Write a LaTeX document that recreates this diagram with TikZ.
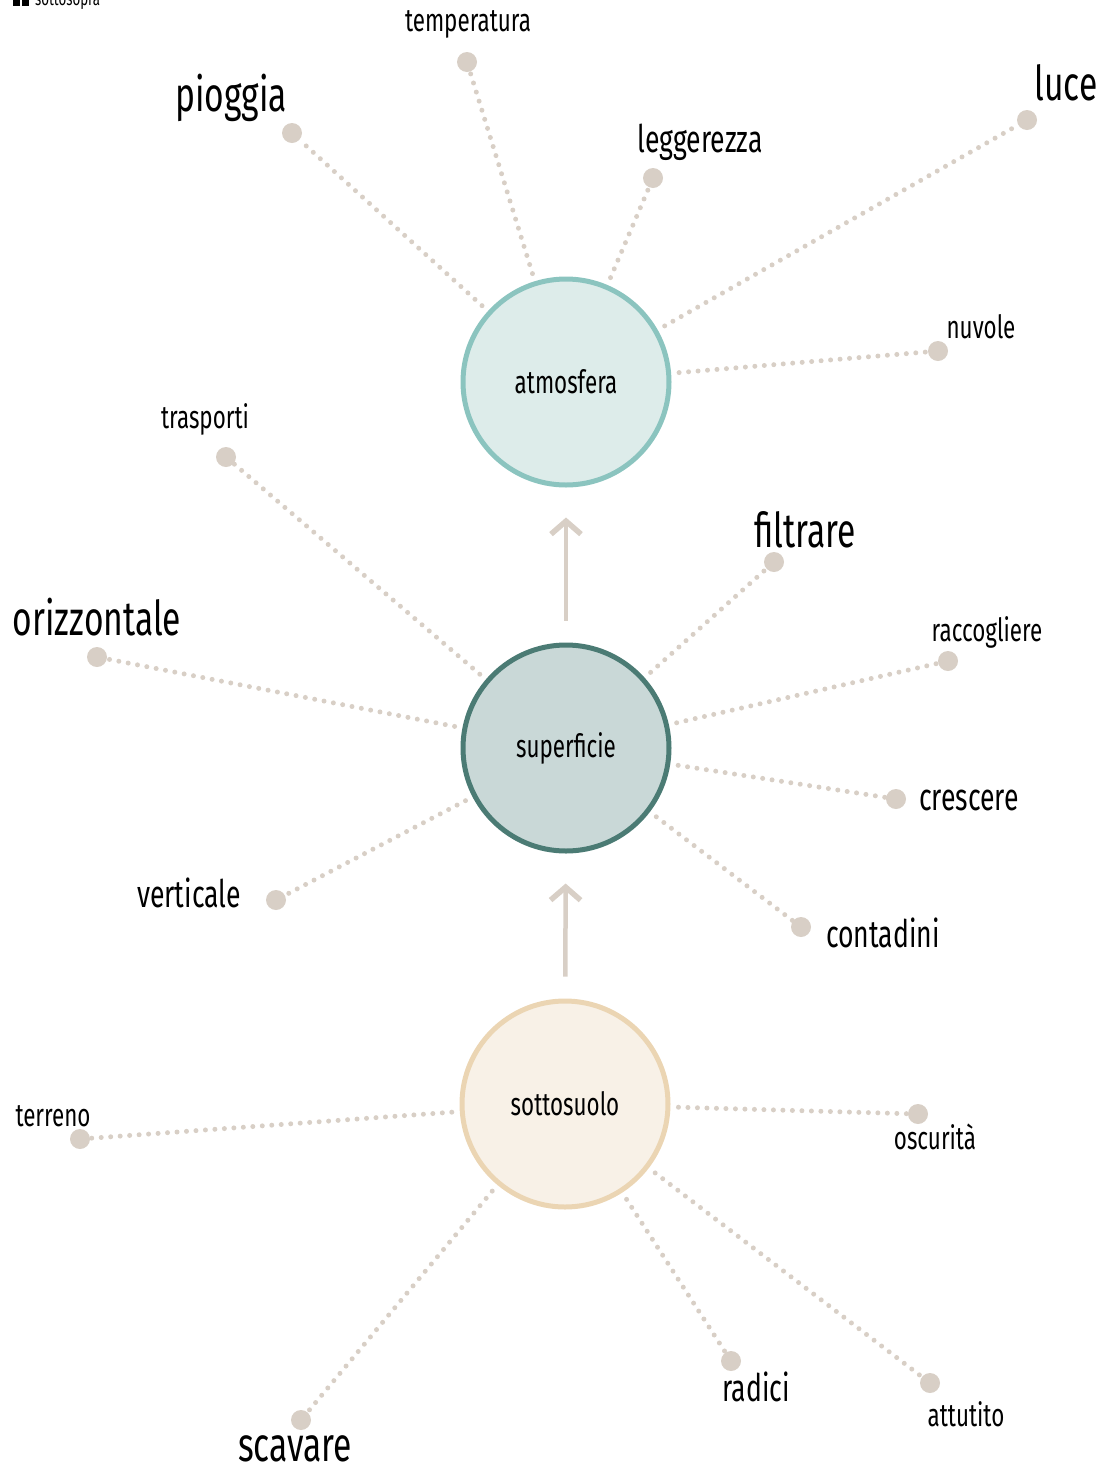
\documentclass[tikz,border=0pt]{standalone}
\usepackage{fontspec}
\setmainfont{Fira Sans}[FakeStretch=0.7]
\usepackage{tikz}
\usetikzlibrary{arrows.meta}
\definecolor{atmline}{HTML}{8BC4BF}
\definecolor{atmfill}{HTML}{DDECEA}
\definecolor{supline}{HTML}{4B7B74}
\definecolor{supfill}{HTML}{C9D8D7}
\definecolor{subline}{HTML}{EBD5B3}
\definecolor{subfill}{HTML}{F8F1E7}
\definecolor{dotgray}{HTML}{D8CFC6}
\tikzset{
  hub/.style={circle, minimum size=206pt, line width=5pt, inner sep=0pt,
    font=\fontsize{32}{34}\selectfont},
  leaf/.style={circle, fill=dotgray, minimum size=20pt, inner sep=0pt},
  link/.style={dotgray, line width=5pt, line cap=round,
    dash pattern=on 0pt off 9.5pt, shorten <=8pt},
  flow/.style={dotgray, line width=4.5pt, shorten <=22pt, shorten >=30pt,
    -{Straight Barb[length=13pt,width=30pt,line width=5.5pt]}},
  big/.style={font=\fontsize{48}{50}\selectfont},
  mid/.style={font=\fontsize{38}{40}\selectfont},
  small/.style={font=\fontsize{32}{34}\selectfont}
}

\begin{document}
\begin{tikzpicture}[x=1pt, y=-1pt]
  \useasboundingbox (0,0) rectangle (1104,1468);

  % brand mark, top left
  \fill (13,-6) rectangle (20,6);
  \fill (22,-6) rectangle (29,6);
  \node[anchor=base west, inner sep=0pt, font=\fontsize{19}{20}\selectfont] (brand) at (35,5) {sottosopra};

  % the three layers
  \node[hub, draw=atmline, fill=atmfill] (atm) at (566,382) {atmosfera};
  \node[hub, draw=supline, fill=supfill] (sup) at (566,748) {superficie};
  \node[hub, draw=subline, fill=subfill] (sub) at (565,1104) {sottosuolo};

  \draw[flow] (sup) -- (atm);
  \draw[flow] (sub) -- (sup);

  % atmosfera
  \node[leaf] (temperatura-dot) at (467,62) {};
  \node[small] (temperatura) at (468,24) {temperatura};
  \node[leaf] (pioggia-dot) at (292,133) {};
  \node[big] (pioggia) at (231,98) {pioggia};
  \node[leaf] (leggerezza-dot) at (653,178) {};
  \node[mid] (leggerezza) at (700,142) {leggerezza};
  \node[leaf] (luce-dot) at (1027,120) {};
  \node[big] (luce) at (1066,83) {luce};
  \node[leaf] (nuvole-dot) at (938,351) {};
  \node[small] (nuvole) at (981,327) {nuvole};
  \draw[link] (atm) -- (temperatura-dot);
  \draw[link] (atm) -- (pioggia-dot);
  \draw[link] (atm) -- (leggerezza-dot);
  \draw[link] (atm) -- (luce-dot);
  \draw[link] (atm) -- (nuvole-dot);

  % superficie
  \node[leaf] (trasporti-dot) at (226,457) {};
  \node[small] (trasporti) at (205,419) {trasporti};
  \node[leaf] (orizzontale-dot) at (97,657) {};
  \node[big] (orizzontale) at (97,617) {orizzontale};
  \node[leaf] (verticale-dot) at (276,900) {};
  \node[mid] (verticale) at (189,893) {verticale};
  \node[leaf] (filtrare-dot) at (774,562) {};
  \node[big] (filtrare) at (805,530) {filtrare};
  \node[leaf] (raccogliere-dot) at (948,661) {};
  \node[small] (raccogliere) at (987,632) {raccogliere};
  \node[leaf] (crescere-dot) at (896,799) {};
  \node[mid] (crescere) at (969,800) {crescere};
  \node[leaf] (contadini-dot) at (801,927) {};
  \node[mid] (contadini) at (883,933) {contadini};
  \draw[link] (sup) -- (trasporti-dot);
  \draw[link] (sup) -- (orizzontale-dot);
  \draw[link] (sup) -- (verticale-dot);
  \draw[link] (sup) -- (filtrare-dot);
  \draw[link] (sup) -- (raccogliere-dot);
  \draw[link] (sup) -- (crescere-dot);
  \draw[link] (sup) -- (contadini-dot);

  % sottosuolo
  \node[leaf] (terreno-dot) at (80,1139) {};
  \node[small] (terreno) at (53,1116) {terreno};
  \node[leaf] (oscurita-dot) at (918,1114) {};
  \node[small] (oscurita) at (935,1137) {oscurità};
  \node[leaf] (radici-dot) at (731,1361) {};
  \node[mid] (radici) at (756,1387) {radici};
  \node[leaf] (attutito-dot) at (930,1383) {};
  \node[small] (attutito) at (966,1414) {attutito};
  \node[leaf] (scavare-dot) at (301,1420) {};
  \node[big] (scavare) at (295,1449) {scavare};
  \draw[link] (sub) -- (terreno-dot);
  \draw[link] (sub) -- (oscurita-dot);
  \draw[link] (sub) -- (radici-dot);
  \draw[link] (sub) -- (attutito-dot);
  \draw[link] (sub) -- (scavare-dot);
\end{tikzpicture}
\end{document}
